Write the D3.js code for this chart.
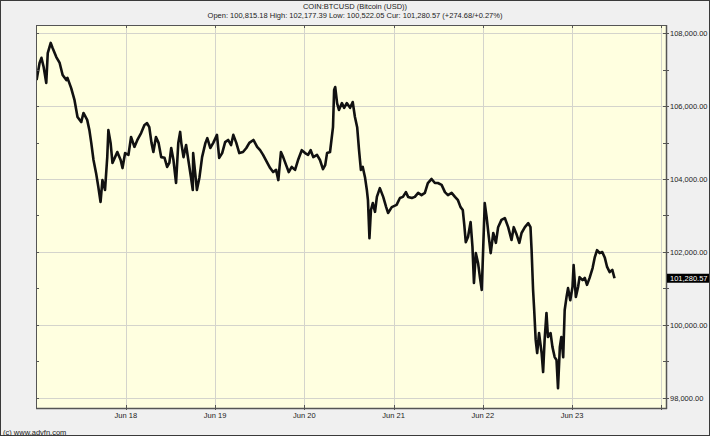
<!DOCTYPE html>
<html>
<head>
<meta charset="utf-8">
<script src="https://cdn.jsdelivr.net/npm/d3@7"></script>
<style>
  body { margin: 0; background: #f0f0f0; }
  svg { display: block; font-family: "Liberation Sans", Arial, sans-serif; }
</style>
</head>
<body>
<div id="svg-chart"></div>
<script>
// hours since Jun 17 00:00 and BTC price
var hours = [0.0, 0.8, 1.3, 1.9, 2.6, 3.0, 3.8, 4.3, 5.3, 6.2, 7.0, 8.0, 8.3, 9.3, 10.2, 11.0, 12.0, 12.6, 13.6, 14.2,
  14.7, 15.3, 16.0, 16.6, 17.2, 17.7, 18.4, 19.0, 19.3, 19.9, 20.4, 21.1, 21.7, 22.6, 23.1, 23.8, 24.7, 25.4, 26.3, 27.1,
  28.1, 29.0, 29.7, 30.3, 30.9, 31.4, 32.1, 32.8, 33.5, 34.4, 35.1, 35.7, 36.2, 36.8, 37.5, 38.1, 38.6, 38.9, 39.5, 40.2,
  40.8, 41.5, 42.0, 42.1, 43.1, 43.8, 44.5, 45.4, 45.9, 46.7, 47.5, 48.5, 49.1, 49.9, 50.7, 51.5, 52.3, 52.9, 53.7, 54.5,
  55.5, 56.4, 57.2, 58.3, 59.3, 60.1, 60.9, 61.9, 62.8, 63.6, 64.4, 65.0, 65.7, 66.3, 67.1, 67.8, 68.6, 69.5, 70.3, 71.3,
  72.2, 73.0, 73.7, 74.4, 75.4, 76.2, 77.0, 77.6, 78.1, 78.9, 79.7, 80.0, 80.3, 80.8, 81.3, 82.1, 82.7, 83.4, 84.3, 85.0,
  85.6, 86.2, 86.7, 87.2, 87.7, 88.3, 88.8, 89.1, 89.5, 89.9, 90.4, 91.0, 91.5, 92.3, 93.2, 94.0, 94.5, 95.5, 96.8, 97.7,
  98.5, 99.3, 99.9, 100.9, 101.7, 102.6, 103.5, 104.4, 105.2, 106.2, 107.1, 107.9, 108.9, 109.8, 110.6, 111.6, 112.5, 113.3, 114.0, 114.6,
  115.0, 115.4, 116.0, 116.7, 117.2, 117.6, 118.1, 118.7, 119.2, 119.7, 120.1, 120.5, 121.0, 121.6, 122.1, 122.8, 123.5, 124.1, 125.0, 125.9,
  126.8, 127.7, 128.3, 129.1, 129.8, 130.4, 131.3, 132.2, 132.8, 133.1, 133.5, 133.8, 134.2, 134.6, 135.1, 135.8, 136.2, 136.6, 137.1, 137.5,
  138.2, 138.7, 139.3, 139.8, 140.2, 140.7, 141.1, 141.6, 142.0, 142.5, 142.9, 143.5, 144.1, 144.4, 145.0, 145.6, 146.0, 146.8, 147.4, 148.0,
  148.7, 149.5, 150.1, 150.7, 151.4, 152.1, 152.8, 153.4, 154.1, 154.8, 155.4];
var prices = [106710, 107180, 107320, 107070, 106630, 107450, 107730, 107590, 107340, 107180, 106850, 106710, 106770, 106490, 106160, 105700, 105560, 105810, 105620, 105340,
  104990, 104520, 104160, 103780, 103370, 103970, 103700, 104600, 105340, 104990, 104440, 104600, 104740, 104520, 104300, 104710, 104660, 105150, 104880, 105070,
  105260, 105480, 105530, 105420, 104990, 104740, 105150, 104990, 104600, 104580, 104330, 104440, 104850, 104520, 103890, 104990, 105290, 104990, 104600, 104930,
  104520, 104050, 103700, 104710, 103700, 104050, 104600, 104990, 105120, 104850, 104990, 105210, 104580, 104710, 105010, 105070, 104930, 105210, 104990, 104710,
  104740, 104850, 104990, 105070, 104880, 104790, 104660, 104470, 104300, 104190, 104250, 103970, 104740, 104600, 104380, 104190, 104330, 104250, 104520, 104790,
  104710, 104660, 104790, 104600, 104660, 104520, 104270, 104380, 104710, 104740, 105420, 106440, 106520, 106080, 105890, 106080, 105950, 106080, 105950, 106110,
  105700, 105420, 104790, 104250, 104330, 104050, 103700, 103420, 102380, 103150, 103340, 103100, 103510, 103750, 103510, 103230, 103070, 103230, 103290, 103480,
  103510, 103640, 103510, 103480, 103510, 103620, 103560, 103620, 103890, 104000, 103890, 103890, 103840, 103640, 103560, 103620, 103510, 103420, 103230, 103150,
  102740, 102270, 102410, 102820, 102140, 101150, 101970, 101700, 101310, 100960, 102140, 103340, 102960, 102410, 101970, 102520, 102250, 102680, 102880, 102930,
  102680, 102330, 102680, 102470, 102250, 102520, 102680, 102790, 102680, 102050, 100960, 100410, 99590, 99230, 99780, 99230, 98710, 99590, 100330, 99670,
  99780, 99400, 99120, 99040, 98270, 99400, 99670, 99120, 100410, 100770, 101010, 100680, 101040, 101640, 100770, 101040, 101310, 101230, 101290, 101100,
  101290, 101560, 101860, 102050, 101970, 102000, 101840, 101590, 101450, 101510, 101280.57];

var dayTicks = [24, 48, 72, 96, 120, 144, 168];
var dayLabels = ["Jun 18", "Jun 19", "Jun 20", "Jun 21", "Jun 22", "Jun 23", ""];
var priceTicks = [98000, 100000, 102000, 104000, 106000, 108000];
var minorTicks = [99000, 101000, 103000, 105000, 107000];
var titleText = "COIN:BTCUSD (Bitcoin (USD))";
var statsText = "Open: 100,815.18 High: 102,177.39 Low: 100,522.05 Cur: 101,280.57 (+274.68/+0.27%)";
var lastPrice = 101280.57;

var svgWidth = 710, svgHeight = 436;
var plot = { left: 36, right: 666, top: 25, bottom: 408 };

var svg = d3.select("#svg-chart").append("svg")
    .attr("width", svgWidth)
    .attr("height", svgHeight);

svg.append("rect")
    .attr("x", 0.5).attr("y", 0.5)
    .attr("width", svgWidth - 1).attr("height", svgHeight - 1)
    .attr("fill", "#f0f0f0")
    .attr("stroke", "#3a3a3a");

var xScale = d3.scaleLinear().domain([-0.16, 169.24]).range([plot.left, plot.right]);
var yScale = d3.scaleLinear().domain([97725, 108220]).range([plot.bottom, plot.top]);

svg.append("rect")
    .attr("x", plot.left).attr("y", plot.top)
    .attr("width", plot.right - plot.left).attr("height", plot.bottom - plot.top)
    .attr("fill", "#ffffe0");

// grid
svg.append("g").selectAll("line").data(priceTicks).enter().append("line")
    .attr("x1", plot.left).attr("x2", plot.right)
    .attr("y1", d => Math.round(yScale(d)) + 0.5).attr("y2", d => Math.round(yScale(d)) + 0.5)
    .attr("stroke", "#d4d4cc");
svg.append("g").selectAll("line").data(dayTicks).enter().append("line")
    .attr("y1", plot.top).attr("y2", plot.bottom)
    .attr("x1", d => Math.round(xScale(d)) + 0.5).attr("x2", d => Math.round(xScale(d)) + 0.5)
    .attr("stroke", "#d4d4cc");

// price line
svg.append("clipPath").attr("id", "clip").append("rect")
    .attr("x", plot.left).attr("y", plot.top)
    .attr("width", plot.right - plot.left).attr("height", plot.bottom - plot.top);

var line = d3.line()
    .x((d, i) => xScale(hours[i]))
    .y(d => yScale(d));

svg.append("path")
    .datum(prices)
    .attr("clip-path", "url(#clip)")
    .attr("d", line)
    .attr("fill", "none")
    .attr("stroke", "#111")
    .attr("stroke-width", 2.6)
    .attr("stroke-linejoin", "round");

// frame
var frame = svg.append("g").attr("stroke", "#555").attr("fill", "none");
frame.append("line").attr("x1", plot.left + 0.5).attr("x2", plot.left + 0.5).attr("y1", plot.top).attr("y2", plot.bottom + 1);
frame.append("line").attr("x1", plot.right + 0.5).attr("x2", plot.right + 0.5).attr("y1", plot.top).attr("y2", plot.bottom + 1).attr("stroke-width", 1.5);
frame.append("line").attr("x1", plot.left).attr("x2", plot.right + 1).attr("y1", plot.bottom + 0.5).attr("y2", plot.bottom + 0.5).attr("stroke-width", 1.5);
frame.append("line").attr("x1", plot.left).attr("x2", plot.right + 1).attr("y1", plot.top + 0.5).attr("y2", plot.top + 0.5);

// ticks on the frame
var allPrice = priceTicks.concat(minorTicks);
frame.selectAll(".yt").data(allPrice).enter().append("line")
    .attr("x1", plot.right - 3).attr("x2", plot.right + 3)
    .attr("y1", d => Math.round(yScale(d)) + 0.5).attr("y2", d => Math.round(yScale(d)) + 0.5);
frame.selectAll(".yl").data(allPrice).enter().append("line")
    .attr("x1", plot.left).attr("x2", plot.left + 3)
    .attr("y1", d => Math.round(yScale(d)) + 0.5).attr("y2", d => Math.round(yScale(d)) + 0.5);
frame.selectAll(".xt").data(dayTicks).enter().append("line")
    .attr("y1", plot.bottom - 3).attr("y2", plot.bottom + 2)
    .attr("x1", d => Math.round(xScale(d)) + 0.5).attr("x2", d => Math.round(xScale(d)) + 0.5);
frame.selectAll(".xtt").data(dayTicks).enter().append("line")
    .attr("y1", plot.top).attr("y2", plot.top + 3)
    .attr("x1", d => Math.round(xScale(d)) + 0.5).attr("x2", d => Math.round(xScale(d)) + 0.5);

// axis labels
var fmt = d3.format(",.2f");
svg.append("g").selectAll("text").data(priceTicks).enter().append("text")
    .attr("x", plot.right + 4).attr("y", d => yScale(d))
    .attr("dy", "0.35em")
    .attr("font-size", 7.5).attr("fill", "#222")
    .text(d => fmt(d));

svg.append("g").selectAll("text").data(dayTicks).enter().append("text")
    .attr("x", d => xScale(d)).attr("y", 418)
    .attr("text-anchor", "middle")
    .attr("font-size", 7.5).attr("fill", "#222")
    .text((d, i) => dayLabels[i]);

// current price marker
svg.append("rect")
    .attr("x", plot.right + 1).attr("y", yScale(lastPrice) - 4.5)
    .attr("width", svgWidth - plot.right - 2).attr("height", 9)
    .attr("fill", "#000");
svg.append("text")
    .attr("x", plot.right + 4).attr("y", yScale(lastPrice))
    .attr("dy", "0.35em")
    .attr("font-size", 7.5).attr("fill", "#fff")
    .text(fmt(lastPrice));

// titles
svg.append("text").attr("x", 355).attr("y", 9)
    .attr("text-anchor", "middle").attr("font-size", 7.5).attr("fill", "#222")
    .text(titleText);
svg.append("text").attr("x", 355).attr("y", 18)
    .attr("text-anchor", "middle").attr("font-size", 7.5).attr("fill", "#222")
    .text(statsText);

svg.append("text").attr("x", 3).attr("y", 435)
    .attr("font-size", 7.5).attr("fill", "#222")
    .text("(c) www.advfn.com");
</script>
</body>
</html>
